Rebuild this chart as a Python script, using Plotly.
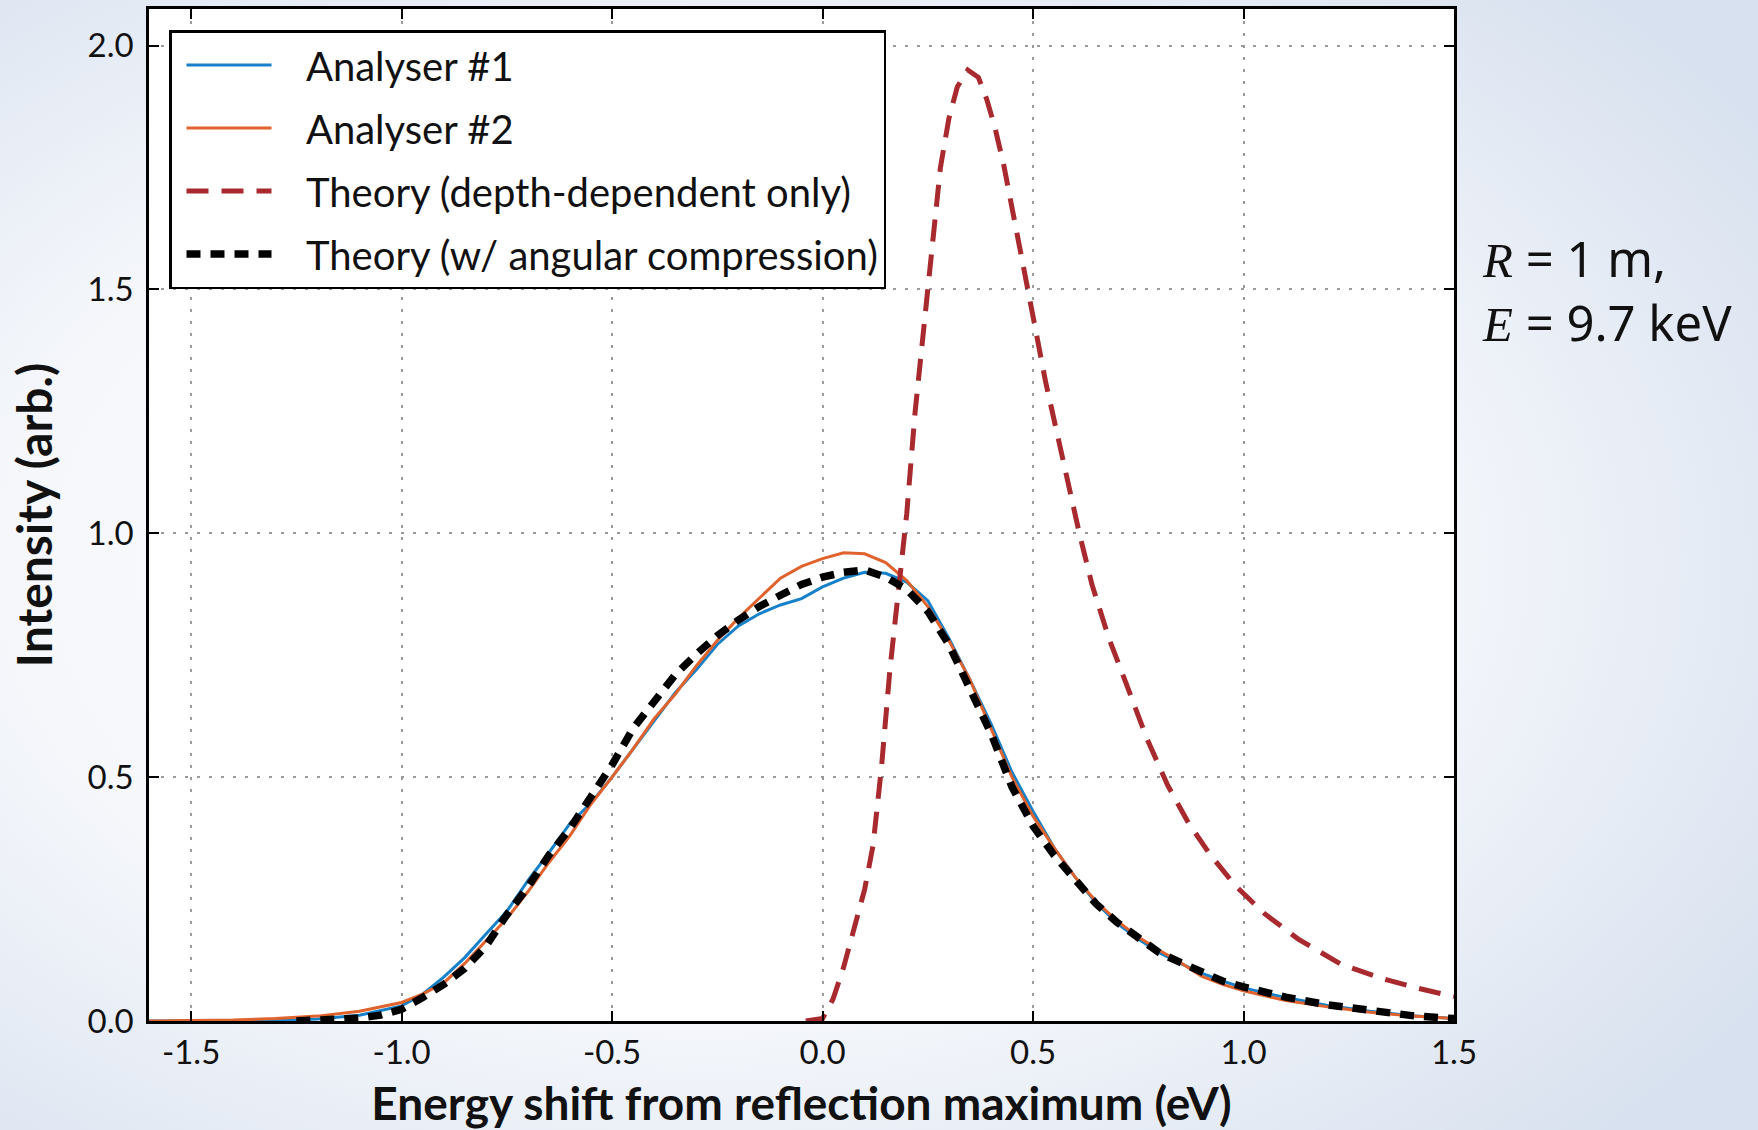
import base64
import plotly.graph_objects as go

# ---------------- data ----------------
x_a1 = [-1.6, -1.3, -1.2, -1.1, -1.0, -0.95, -0.9, -0.85, -0.8, -0.75, -0.7, -0.65, -0.6, -0.55,
        -0.5, -0.45, -0.4, -0.35, -0.3, -0.25, -0.2, -0.15, -0.1, -0.05, 0.0, 0.05, 0.1, 0.15,
        0.2, 0.25, 0.3, 0.35, 0.4, 0.45, 0.5, 0.55, 0.6, 0.65, 0.7, 0.75, 0.8, 0.85, 0.9, 0.95,
        1.0, 1.1, 1.2, 1.3, 1.4, 1.5]
y_a1 = [0.0, 0.001, 0.004, 0.012, 0.031, 0.055, 0.09, 0.13, 0.178, 0.225, 0.288, 0.345, 0.405, 0.447,
        0.5, 0.557, 0.615, 0.673, 0.72, 0.772, 0.81, 0.835, 0.853, 0.866, 0.89, 0.908, 0.92, 0.918,
        0.9, 0.862, 0.785, 0.7, 0.61, 0.51, 0.43, 0.355, 0.295, 0.242, 0.2, 0.168, 0.14, 0.118, 0.098, 0.082,
        0.068, 0.048, 0.032, 0.02, 0.011, 0.005]

x_a2 = [-1.6, -1.5, -1.4, -1.3, -1.2, -1.1, -1.0, -0.95, -0.9, -0.85, -0.8, -0.75, -0.7, -0.65, -0.6,
        -0.55, -0.5, -0.45, -0.4, -0.35, -0.3, -0.25, -0.2, -0.15, -0.1, -0.05, 0.0, 0.05, 0.1, 0.15,
        0.2, 0.25, 0.3, 0.35, 0.4, 0.45, 0.5, 0.55, 0.6, 0.65, 0.7, 0.75, 0.8, 0.85, 0.9, 0.95,
        1.0, 1.1, 1.2, 1.3, 1.4, 1.5]
y_a2 = [0.0, 0.001, 0.002, 0.005, 0.01, 0.02, 0.038, 0.055, 0.078, 0.118, 0.163, 0.21, 0.265, 0.325, 0.38,
        0.445, 0.5, 0.558, 0.62, 0.67, 0.728, 0.78, 0.826, 0.868, 0.908, 0.932, 0.948, 0.96, 0.958, 0.94,
        0.903, 0.85, 0.78, 0.7, 0.6, 0.5, 0.42, 0.355, 0.295, 0.245, 0.205, 0.172, 0.145, 0.12, 0.092, 0.075,
        0.062, 0.042, 0.029, 0.018, 0.01, 0.005]

x_depth = [-0.04, 0.0, 0.025, 0.05, 0.075, 0.1, 0.12, 0.14, 0.16, 0.18, 0.2, 0.22, 0.24, 0.26, 0.28,
           0.3, 0.32, 0.345, 0.37, 0.39, 0.41, 0.43, 0.45, 0.47, 0.49, 0.51, 0.53, 0.55, 0.58, 0.61,
           0.64, 0.68, 0.72, 0.77, 0.82, 0.87, 0.92, 0.98, 1.05, 1.13, 1.23, 1.33, 1.41, 1.5]
y_depth = [0.0, 0.005, 0.045, 0.11, 0.19, 0.27, 0.36, 0.52, 0.72, 0.89, 1.04, 1.25, 1.42, 1.60, 1.75,
           1.85, 1.915, 1.95, 1.935, 1.89, 1.83, 1.757, 1.67, 1.58, 1.50, 1.40, 1.31, 1.23, 1.115, 1.0,
           0.895, 0.785, 0.695, 0.58, 0.483, 0.405, 0.342, 0.278, 0.22, 0.168, 0.117, 0.087, 0.068, 0.05]

x_ang = [-1.25, -1.15, -1.1, -1.05, -1.0, -0.95, -0.9, -0.85, -0.8, -0.75, -0.7, -0.65, -0.6, -0.55,
         -0.5, -0.45, -0.4, -0.35, -0.3, -0.25, -0.2, -0.15, -0.1, -0.05, 0.0, 0.05, 0.1, 0.15, 0.2,
         0.25, 0.3, 0.35, 0.4, 0.45, 0.5, 0.55, 0.6, 0.65, 0.7, 0.75, 0.8, 0.85, 0.9, 0.95, 1.0,
         1.1, 1.2, 1.3, 1.4, 1.5]
y_ang = [0.0, 0.003, 0.006, 0.012, 0.024, 0.048, 0.075, 0.108, 0.153, 0.218, 0.275, 0.34, 0.395, 0.46,
         0.525, 0.6, 0.655, 0.71, 0.752, 0.79, 0.822, 0.85, 0.873, 0.895, 0.91, 0.92, 0.925, 0.91, 0.885,
         0.84, 0.772, 0.685, 0.59, 0.48, 0.40, 0.34, 0.289, 0.24, 0.202, 0.17, 0.14, 0.12, 0.1, 0.082, 0.07,
         0.049, 0.033, 0.021, 0.011, 0.005]

series_names = ["Analyser #1", "Analyser #2", "Theory (depth-dependent only)",
                "Theory (w/ angular compression)"]
x_ticks = [-1.5, -1.0, -0.5, 0.0, 0.5, 1.0, 1.5]
y_ticks = [0.0, 0.5, 1.0, 1.5, 2.0]

# ---------------- styling ----------------
W, H = 1758, 1130
ML, MR, MT, MB = 149, 304, 9, 109
PW, PH = W - ML - MR, H - MT - MB
FONT = "Lato"
GAP = "\u00a0\u00a0\u00a0"  # visual gap between legend sample and its label

svg = (
    f'<svg xmlns="http://www.w3.org/2000/svg" width="{W}" height="{H}" viewBox="0 0 {W} {H}" '
    'preserveAspectRatio="none"><defs><radialGradient id="g" cx="0.40" cy="0.5" r="0.72">'
    '<stop offset="0" stop-color="#ffffff"/><stop offset="0.55" stop-color="#f5f7fb"/>'
    '<stop offset="1" stop-color="#d8e1ef"/></radialGradient></defs>'
    f'<rect width="{W}" height="{H}" fill="url(#g)"/></svg>'
)
bg_uri = "data:image/svg+xml;base64," + base64.b64encode(svg.encode()).decode()

fig = go.Figure()
fig.add_trace(go.Scatter(x=x_a1, y=y_a1, name=GAP + series_names[0], mode="lines", legendgroup="a",
                         line=dict(color="#1680c8", width=3)))
fig.add_trace(go.Scatter(x=x_a2, y=y_a2, name=GAP + series_names[1], mode="lines", legendgroup="b",
                         line=dict(color="#e0622c", width=3)))
fig.add_trace(go.Scatter(x=x_depth, y=y_depth, name=GAP + series_names[2], mode="lines", legendgroup="c",
                         line=dict(color="#a82a2e", width=5, dash="22px,13px")))
fig.add_trace(go.Scatter(x=x_ang, y=y_ang, name=GAP + series_names[3], mode="lines", legendgroup="d",
                         line=dict(color="#000000", width=7.5, dash="14px,10px")))

axis_common = dict(
    showline=True, linecolor="black", linewidth=2.5, mirror="allticks",
    ticks="inside", ticklen=10, tickwidth=1.5, tickcolor="black",
    showgrid=True, gridcolor="#9a9a9a", gridwidth=2, griddash="3px,9px",
    zeroline=False, tickfont=dict(family=FONT, size=33, color="#111"),
)

fig.update_xaxes(range=[-1.6, 1.5], tickvals=x_ticks, ticktext=[f"{v:.1f}" for v in x_ticks],
                 ticklabelstandoff=1,
                 title=dict(text="<b>Energy shift from reflection maximum (eV)</b>",
                            font=dict(family=FONT, size=46, color="#111"), standoff=20),
                 **axis_common)
fig.update_yaxes(range=[0, 2.075], tickvals=y_ticks, ticktext=[f"{v:.1f}" for v in y_ticks],
                 ticklabelstandoff=6,
                 title=dict(text="<b>Intensity (arb.)</b>",
                            font=dict(family=FONT, size=48, color="#111"), standoff=20),
                 **axis_common)

fig.update_layout(
    width=W, height=H,
    margin=dict(l=ML, r=MR, t=MT, b=MB, autoexpand=False),
    paper_bgcolor="#f4f6fa", plot_bgcolor="white",
    font=dict(family=FONT, color="#111"),
    legend=dict(x=(169 - ML) / PW, y=1 - (30 - MT) / PH, xanchor="left", yanchor="top",
                bgcolor="white", bordercolor="black", borderwidth=2.5,
                font=dict(family=FONT, size=40, color="#111"),
                traceorder="grouped", tracegroupgap=8, itemwidth=85, indentation=10),
    images=[dict(source=bg_uri, xref="paper", yref="paper", x=-ML / PW, y=1 + MT / PH,
                 sizex=W / PW, sizey=H / PH, sizing="stretch", xanchor="left", yanchor="top",
                 layer="below")],
    shapes=[dict(type="rect", xref="paper", yref="paper", x0=0, x1=1, y0=0, y1=1,
                 fillcolor="white", line=dict(width=0), layer="below")],
    annotations=[
        dict(xref="paper", yref="paper", x=(1480 - ML) / PW, y=(H - MB - 258) / PH,
             xanchor="left", yanchor="middle", showarrow=False,
             text="<i><span style='font-family:Liberation Serif'>R</span></i> = 1 m,",
             font=dict(family="Noto Sans", size=49, color="#111")),
        dict(xref="paper", yref="paper", x=(1480 - ML) / PW, y=(H - MB - 322) / PH,
             xanchor="left", yanchor="middle", showarrow=False,
             text="<i><span style='font-family:Liberation Serif'>E</span></i> = 9.7 keV",
             font=dict(family="Noto Sans", size=49, color="#111")),
    ],
    showlegend=True,
)

fig.write_html("out.html")
